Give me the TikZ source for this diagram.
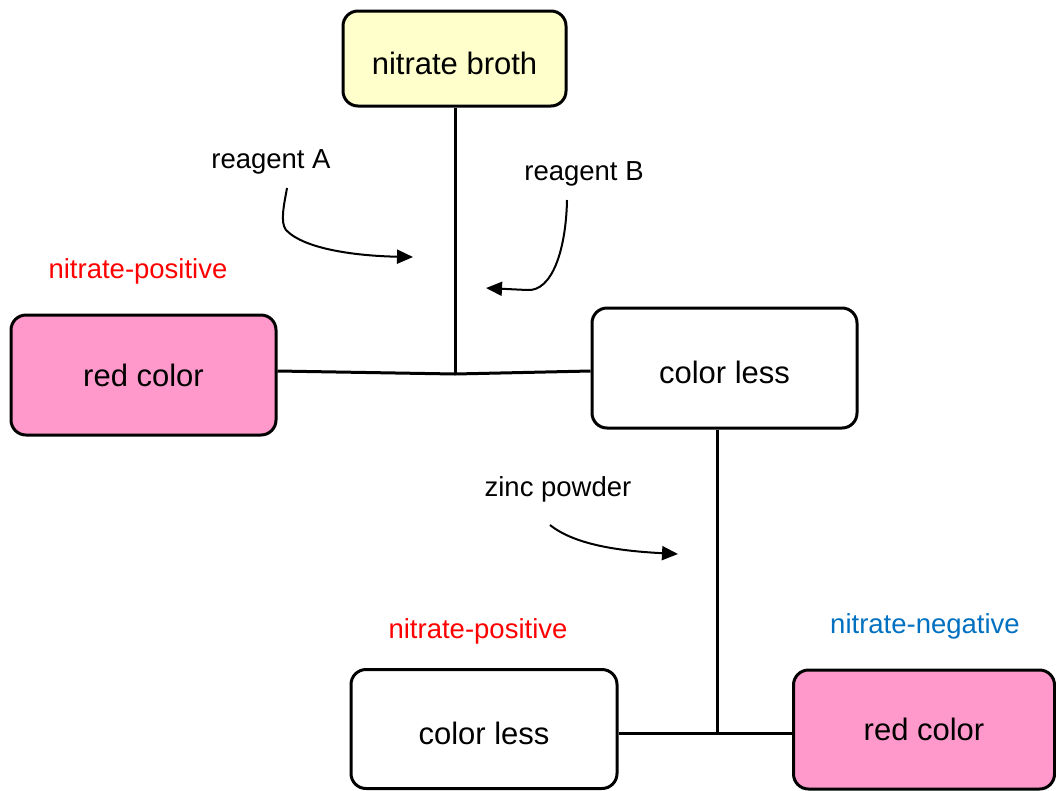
\documentclass[tikz,border=0pt]{standalone}
\usepackage{fontspec}
\setmainfont{Liberation Sans}
\usetikzlibrary{arrows.meta}

\definecolor{brothfill}{RGB}{255,255,204}
\definecolor{redfill}{RGB}{255,153,204}
\definecolor{posred}{RGB}{255,0,0}
\definecolor{negblue}{RGB}{0,112,192}

\begin{document}
\begin{tikzpicture}[x=1pt,y=1pt,yscale=-1,
  stagebox/.style={draw, line width=3pt, rounded corners=15pt, inner sep=0pt,
    font=\fontsize{31}{36}\selectfont},
  lowtext/.style={text height=31pt, text depth=0pt},
  link/.style={line width=3pt},
  reagentarrow/.style={line width=2pt, -{Triangle[length=16pt,width=14pt]}},
  lbl/.style={inner sep=0pt, font=\fontsize{27.5}{32}\selectfont}]
\useasboundingbox (0,0) rectangle (1056,790);

%Shape: Rounded Rectangle [nitrate broth]
\node [stagebox, lowtext, fill=brothfill, minimum width=223pt, minimum height=95pt] (broth) at (454.5,58.5) {nitrate broth};
%Shape: Rounded Rectangle [left red]
\node [stagebox, fill=redfill, minimum width=265pt, minimum height=120pt] (leftred) at (143.5,375) {red color};
%Shape: Rounded Rectangle [colour less, top]
\node [stagebox, lowtext, fill=white, minimum width=265pt, minimum height=120pt] (colorless) at (724.5,368) {color less};
%Shape: Rounded Rectangle [colour less, bottom]
\node [stagebox, lowtext, fill=white, minimum width=266pt, minimum height=119pt] (lowcl) at (484,729) {color less};
%Shape: Rounded Rectangle [bottom red]
\node [stagebox, fill=redfill, minimum width=261pt, minimum height=119pt] (lowred) at (924,729.5) {red color};

%Junctions
\coordinate (j1) at (455,374);
\coordinate (j2) at (717,733);

%Straight Lines
\draw [link] (broth.south -| j1) -- (j1);
\draw [link] ([yshift=-4pt]leftred.east) -- (j1) -- ([yshift=3pt]colorless.west);
\draw [link] (colorless.south -| j2) -- (j2);
\draw [link] (lowcl.east |- j2) -- (lowred.west |- j2);

% Text Node
\node [lbl] (reagA) at (271,162) {reagent A};
% Text Node
\node [lbl] (reagB) at (584,174) {reagent B};
% Text Node
\node [lbl] (zinc) at (558,489) {zinc powder};
% Text Node
\node [lbl, text=posred] (posA) at (138,271) {nitrate-positive};
% Text Node
\node [lbl, text=posred] (posB) at (478,631) {nitrate-positive};
% Text Node
\node [lbl, text=negblue] (negB) at (925,626) {nitrate-negative};

%Curve Lines
\coordinate (a0) at (287,188);
\coordinate (a1) at (413,257);
\draw [reagentarrow] (a0) .. controls (284,205) and (280,222) .. (286,230) .. controls (305,250) and (360,256) .. (a1);
\coordinate (b0) at (567,200);
\coordinate (b1) at (486,288);
\draw [reagentarrow] (b0) .. controls (566,250) and (552,292) .. (527,290) -- (b1);
\coordinate (z0) at (550,525);
\coordinate (z1) at (678,554);
\draw [reagentarrow] (z0) .. controls (575,545) and (620,551) .. (z1);
\end{tikzpicture}
\end{document}
